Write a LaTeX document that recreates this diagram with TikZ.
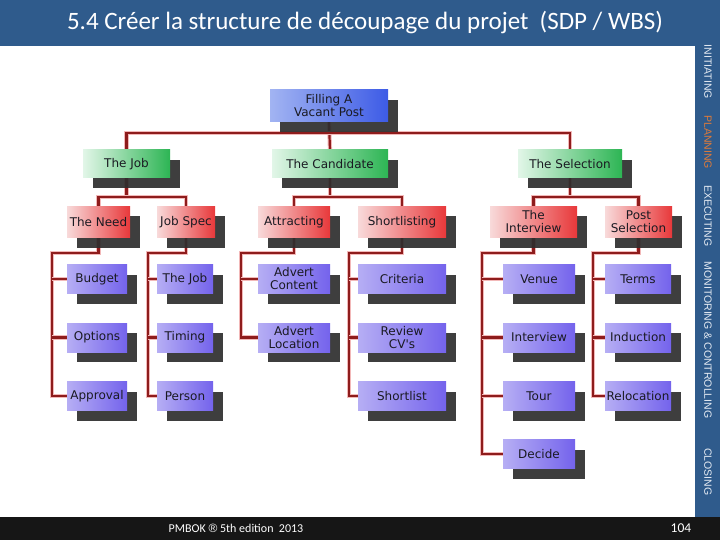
\documentclass[tikz,border=0pt]{standalone}
\usepackage{fontspec}
\setmainfont{Carlito}
\newfontfamily\boxfont{DejaVu Sans}
\newfontfamily\sidefont{Liberation Sans}
\usetikzlibrary{shadows,calc}
\pgfdeclarelayer{bgl}
\pgfdeclarelayer{connl}
\pgfsetlayers{bgl,connl,main}
\definecolor{barblue}{HTML}{2F5B8C}
\definecolor{footbg}{HTML}{161616}
\definecolor{sidetext}{HTML}{E6ECF4}
\definecolor{planorange}{HTML}{E07B39}
\definecolor{connred}{HTML}{8E1C1C}
\definecolor{connglow}{HTML}{F2B8B8}
\definecolor{boxtext}{HTML}{1A1A22}
\definecolor{rootL}{HTML}{A2B4F2}
\definecolor{rootR}{HTML}{3D5BE6}
\definecolor{greenL}{HTML}{E2F6E8}
\definecolor{greenR}{HTML}{2DB554}
\definecolor{redL}{HTML}{F8DADA}
\definecolor{redR}{HTML}{E8383A}
\definecolor{purpL}{HTML}{B6AEF4}
\definecolor{purpR}{HTML}{7463EC}
\definecolor{shadowc}{HTML}{2E2E2E}
\tikzset{
  wbsbox/.style={rectangle, inner sep=0pt, align=center, text=boxtext,
    font=\boxfont\fontsize{12}{13}\selectfont,
    drop shadow={shadow xshift=10pt, shadow yshift=-10pt, fill=shadowc, opacity=0.92}},
  rootbox/.style={wbsbox, left color=rootL, right color=rootR, minimum height=32pt},
  greenbox/.style={wbsbox, left color=greenL, right color=greenR, minimum height=28pt},
  redbox/.style={wbsbox, left color=redL, right color=redR, minimum height=31pt},
  purpbox/.style={wbsbox, left color=purpL, right color=purpR, minimum height=29pt},
  conn/.style={draw=connred, line width=2.2pt, preaction={draw=connglow, line width=4.2pt}},
  sidetxt/.style={text=sidetext, font=\sidefont\fontsize{10.5}{11}\selectfont, rotate=-90, inner sep=0pt},
  whitetxt/.style={text=white, inner sep=0pt}
}
\begin{document}
\begin{tikzpicture}[x=1pt,y=-1pt]
\begin{pgfonlayer}{bgl}
  \fill[white] (0,0) rectangle (720,540);
  \fill[barblue] (0,0) rectangle (720,46);
  \fill[barblue] (695,46) rectangle (720,517);
  \fill[footbg] (0,517) rectangle (720,540);
\end{pgfonlayer}
\useasboundingbox (0,0) rectangle (720,540);

% header / footer / side texts
\node[whitetxt, font=\fontsize{25}{27}\selectfont] (title) at (365,23) {5.4 Créer la structure de découpage du projet \ (SDP / WBS)};
\node[whitetxt, font=\fontsize{12}{13}\selectfont] (foot) at (236,528.5) {PMBOK {\sidefont ®} 5th edition \ 2013};
\node[whitetxt, font=\fontsize{13.5}{14}\selectfont] (page) at (681,528) {104};
\node[sidetxt] (s1) at (708,72) {INITIATING};
\node[sidetxt, text=planorange] (s2) at (708,142) {PLANNING};
\node[sidetxt] (s3) at (708,216) {EXECUTING};
\node[sidetxt] (s4) at (708,340) {MONITORING \& CONTROLLING};
\node[sidetxt] (s5) at (708,472) {CLOSING};

% level 0
\node[rootbox, minimum width=118pt] (root) at (329,106) {Filling A\\Vacant Post};
% level 1
\node[greenbox, minimum width=87pt] (job) at (126.5,164) {The Job};
\node[greenbox, minimum width=116pt] (cand) at (330,164) {The Candidate};
\node[greenbox, minimum width=104pt] (sel) at (570,164) {The Selection};
% level 2
\node[redbox, minimum width=63pt] (need) at (98.5,222) {The Need};
\node[redbox, minimum width=58pt] (spec) at (186,222) {Job Spec};
\node[redbox, minimum width=72pt] (attr) at (294,222) {Attracting};
\node[redbox, minimum width=88pt] (short) at (402,222) {Shortlisting};
\node[redbox, minimum width=87pt] (intv) at (533.5,222) {The\\Interview};
\node[redbox, minimum width=67pt] (post) at (638.5,222) {Post\\Selection};
% level 3
\node[purpbox, minimum width=60pt] (bud) at (97,279) {Budget};
\node[purpbox, minimum width=60pt] (opt) at (97,337.5) {Options};
\node[purpbox, minimum width=60pt] (app) at (97,396) {Approval};
\node[purpbox, minimum width=56pt] (tjob) at (185,279) {The Job};
\node[purpbox, minimum width=56pt] (tim) at (185,337.5) {Timing};
\node[purpbox, minimum width=56pt] (pers) at (185,396) {Person};
\node[purpbox, minimum width=72pt] (adc) at (294,279) {Advert\\Content};
\node[purpbox, minimum width=72pt] (adl) at (294,337.5) {Advert\\Location};
\node[purpbox, minimum width=88pt] (crit) at (402,279) {Criteria};
\node[purpbox, minimum width=88pt] (rcv) at (402,337.5) {Review\\CV's};
\node[purpbox, minimum width=88pt] (slist) at (402,396) {Shortlist};
\node[purpbox, minimum width=72pt] (ven) at (539,279) {Venue};
\node[purpbox, minimum width=72pt] (inter) at (539,337.5) {Interview};
\node[purpbox, minimum width=72pt] (tour) at (539,396) {Tour};
\node[purpbox, minimum width=72pt] (dec) at (539,454) {Decide};
\node[purpbox, minimum width=66pt] (terms) at (638,279) {Terms};
\node[purpbox, minimum width=66pt] (ind) at (638,337.5) {Induction};
\node[purpbox, minimum width=66pt] (reloc) at (638,396) {Relocation};

\begin{pgfonlayer}{connl}
  % level 0 -> 1
  \coordinate (bus0) at ($(root.south)+(0,11)$);
  \draw[conn] (root.south) -- (cand.north);
  \draw[conn] (job.north) |- (bus0) -| (sel.north);
  % level 1 -> 2
  \coordinate (bus1) at ($(job.south)+(0,19)$);
  \draw[conn] (job.south) -- (bus1);
  \draw[conn] (need.north) |- (bus1) -| (spec.north);
  \coordinate (bus2) at ($(cand.south)+(0,19)$);
  \draw[conn] (cand.south) -- (bus2);
  \draw[conn] (attr.north) |- (bus2) -| (short.north);
  \coordinate (bus3) at ($(sel.south)+(0,19)$);
  \draw[conn] (sel.south) -- (bus3);
  \draw[conn] (intv.north) |- (bus3) -| (post.north);
  % level 2 -> 3
  \draw[conn] (need.south) -- ++(0,15.5) -| ($(app.west)+(-15,0)$) -- (app.west);
  \draw[conn] (bud.west) -- ++(-15,0);
  \draw[conn] (opt.west) -- ++(-15,0);
  \draw[conn] (spec.south) -- ++(0,15.5) -| ($(pers.west)+(-9,0)$) -- (pers.west);
  \draw[conn] (tjob.west) -- ++(-9,0);
  \draw[conn] (tim.west) -- ++(-9,0);
  \draw[conn] (attr.south) -- ++(0,15.5) -| ($(adl.west)+(-17,0)$) -- (adl.west);
  \draw[conn] (adc.west) -- ++(-17,0);
  \draw[conn] (short.south) -- ++(0,15.5) -| ($(slist.west)+(-9,0)$) -- (slist.west);
  \draw[conn] (crit.west) -- ++(-9,0);
  \draw[conn] (rcv.west) -- ++(-9,0);
  \draw[conn] (intv.south) -- ++(0,15.5) -| ($(dec.west)+(-21,0)$) -- (dec.west);
  \draw[conn] (ven.west) -- ++(-21,0);
  \draw[conn] (inter.west) -- ++(-21,0);
  \draw[conn] (tour.west) -- ++(-21,0);
  \draw[conn] (post.south) -- ++(0,15.5) -| ($(reloc.west)+(-12,0)$) -- (reloc.west);
  \draw[conn] (terms.west) -- ++(-12,0);
  \draw[conn] (ind.west) -- ++(-12,0);
\end{pgfonlayer}
\end{tikzpicture}
\end{document}
